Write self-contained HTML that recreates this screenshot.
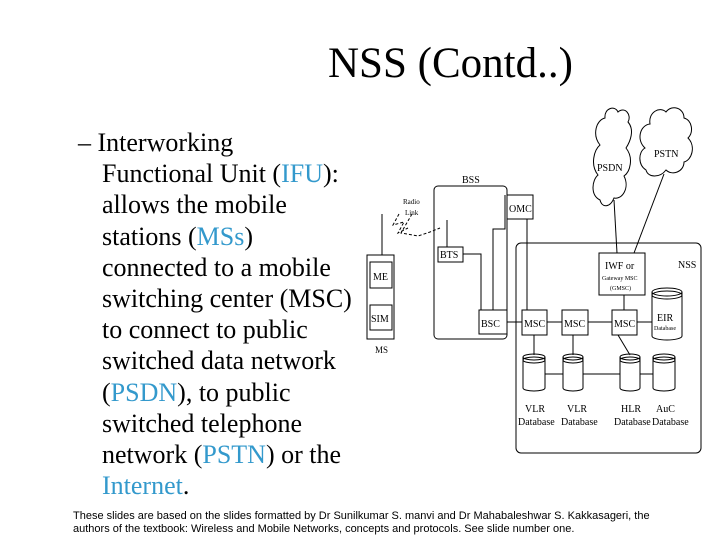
<!DOCTYPE html>
<html><head><meta charset="utf-8"><style>
html,body{margin:0;padding:0;background:#fff}
body{width:720px;height:540px;position:relative;overflow:hidden;font-family:"Liberation Serif",serif}
.t{position:absolute;left:328px;top:39px;font-size:43px;color:#000;white-space:nowrap}
.b{position:absolute;left:78px;top:127px;font-size:26px;line-height:31.2px;color:#000;white-space:nowrap}
.b div{padding-left:24px}
.b div.f{padding-left:0}
.c{color:#3399cc}
.ft{position:absolute;left:73px;top:510px;font-family:"Liberation Sans",sans-serif;font-size:11px;line-height:13px;color:#000;white-space:nowrap}
svg{position:absolute;left:0;top:0}
svg text{font-family:"Liberation Serif",serif;font-size:10px}
</style></head><body>
<div class="t">NSS (Contd..)</div>
<div class="b">
<div class="f">– Interworking</div>
<div>Functional Unit (<span class="c">IFU</span>):</div>
<div>allows the mobile</div>
<div>stations (<span class="c">MSs</span>)</div>
<div>connected to a mobile</div>
<div>switching center (MSC)</div>
<div>to connect to public</div>
<div>switched data network</div>
<div>(<span class="c">PSDN</span>), to public</div>
<div>switched telephone</div>
<div>network (<span class="c">PSTN</span>) or the</div>
<div><span class="c">Internet</span>.</div>
</div>
<div class="ft">These slides are based on the slides formatted by Dr Sunilkumar S. manvi and Dr Mahabaleshwar S. Kakkasageri, the<br>authors of the textbook: Wireless and Mobile Networks, concepts and protocols. See slide number one.</div>
<svg width="720" height="540" fill="none" stroke="#000" stroke-width="1">
<path d="M600,200 C590,195 592,180 598,175 C590,165 594,150 600,145 C592,135 596,120 605,118 C604,108 615,105 618,112 C625,106 632,115 628,122 C635,130 630,142 626,148 C634,158 630,172 624,176 C630,188 622,200 614,198 C610,208 602,208 600,200 Z"/>
<path d="M646,170 C638,165 638,152 645,148 C636,140 640,125 650,124 C648,112 660,106 666,112 C672,104 684,108 684,118 C692,120 694,132 688,138 C696,146 692,160 684,162 C684,172 672,176 666,170 C660,178 648,178 646,170 Z"/>
<text x="597" y="171" stroke="none" fill="#000">PSDN</text>
<text x="654" y="157" stroke="none" fill="#000">PSTN</text>
<line x1="614" y1="200" x2="617" y2="253"/>
<line x1="664" y1="174" x2="634" y2="253"/>
<rect x="367" y="255" width="27" height="84"/>
<rect x="370" y="262" width="22" height="26"/>
<rect x="370" y="305" width="22" height="25"/>
<line x1="382" y1="214" x2="382" y2="255"/>
<text x="373" y="280" stroke="none" fill="#000">ME</text>
<text x="371" y="322" stroke="none" fill="#000">SIM</text>
<text x="375" y="353" stroke="none" fill="#000" style="font-size:9px">MS</text>
<text x="403" y="204" stroke="none" fill="#000" style="font-size:7px">Radio</text>
<text x="405" y="215" stroke="none" fill="#000" style="font-size:7px">Link</text>
<path d="M399,214 L393,225 L404,222 L398,233 L408,228" stroke-dasharray="3,2"/>
<path d="M412,214 L401,233 L418,236 L430,232 L440,228" stroke-dasharray="3,2"/>
<rect x="434" y="186" width="73" height="153" rx="4"/>
<text x="462" y="183" stroke="none" fill="#000">BSS</text>
<rect x="507" y="195" width="26" height="24" fill="#fff"/>
<text x="509" y="212" stroke="none" fill="#000">OMC</text>
<rect x="438" y="247" width="25" height="15"/>
<line x1="447" y1="220" x2="447" y2="247"/>
<text x="440" y="258" stroke="none" fill="#000">BTS</text>
<polyline points="463,254 481,254 481,310"/>
<polyline points="493,310 493,229 505,229 505,195"/>
<rect x="479" y="310" width="28" height="24" fill="#fff"/>
<text x="481" y="327" stroke="none" fill="#000">BSC</text>
<rect x="516" y="243" width="185" height="210" rx="5"/>
<text x="678" y="268" stroke="none" fill="#000">NSS</text>
<line x1="527" y1="219" x2="527" y2="310"/>
<rect x="599" y="253" width="46" height="42" fill="#fff"/>
<text x="605" y="269" stroke="none" fill="#000">IWF or</text>
<text x="602" y="280" stroke="none" fill="#000" style="font-size:6px">Gateway MSC</text>
<text x="610" y="290" stroke="none" fill="#000" style="font-size:6px">(GMSC)</text>
<line x1="624" y1="295" x2="624" y2="310"/>
<line x1="507" y1="322" x2="522" y2="322"/>
<line x1="547" y1="322" x2="562" y2="322"/>
<line x1="588" y1="322" x2="612" y2="322"/>
<line x1="637" y1="322" x2="652" y2="322"/>
<rect x="522" y="310" width="25" height="25" fill="#fff"/>
<rect x="562" y="310" width="26" height="25" fill="#fff"/>
<rect x="612" y="310" width="25" height="25" fill="#fff"/>
<text x="524" y="327" stroke="none" fill="#000">MSC</text>
<text x="564" y="327" stroke="none" fill="#000">MSC</text>
<text x="614" y="327" stroke="none" fill="#000">MSC</text>
<path d="M652,292 L652,336 A15,4 0 0 0 682,336 L682,292"/>
<ellipse cx="667" cy="292" rx="15" ry="4"/>
<ellipse cx="667" cy="295" rx="15" ry="4"/>
<text x="657" y="321" stroke="none" fill="#000">EIR</text>
<text x="654" y="330" stroke="none" fill="#000" style="font-size:6px">Database</text>
<line x1="534" y1="335" x2="534" y2="355"/>
<line x1="573" y1="335" x2="573" y2="355"/>
<line x1="618" y1="335" x2="630" y2="355"/>
<line x1="545" y1="374" x2="563" y2="374"/>
<line x1="583" y1="374" x2="620" y2="374"/>
<line x1="640" y1="374" x2="653" y2="374"/>
<g>
<path d="M523,357 L523,388 A11,3 0 0 0 545,388 L545,357"/><ellipse cx="534" cy="357" rx="11" ry="3"/><ellipse cx="534" cy="360" rx="11" ry="3"/>
<path d="M563,357 L563,388 A10,3 0 0 0 583,388 L583,357"/><ellipse cx="573" cy="357" rx="10" ry="3"/><ellipse cx="573" cy="360" rx="10" ry="3"/>
<path d="M620,357 L620,388 A10,3 0 0 0 640,388 L640,357"/><ellipse cx="630" cy="357" rx="10" ry="3"/><ellipse cx="630" cy="360" rx="10" ry="3"/>
<path d="M653,357 L653,388 A11,3 0 0 0 675,388 L675,357"/><ellipse cx="664" cy="357" rx="11" ry="3"/><ellipse cx="664" cy="360" rx="11" ry="3"/>
</g>
<g stroke="none" fill="#000">
<text x="525" y="412">VLR</text><text x="518" y="425">Database</text>
<text x="567" y="412">VLR</text><text x="561" y="425">Database</text>
<text x="621" y="412">HLR</text><text x="614" y="425">Database</text>
<text x="656" y="412">AuC</text><text x="652" y="425">Database</text>
</g>
</svg>
</body></html>
